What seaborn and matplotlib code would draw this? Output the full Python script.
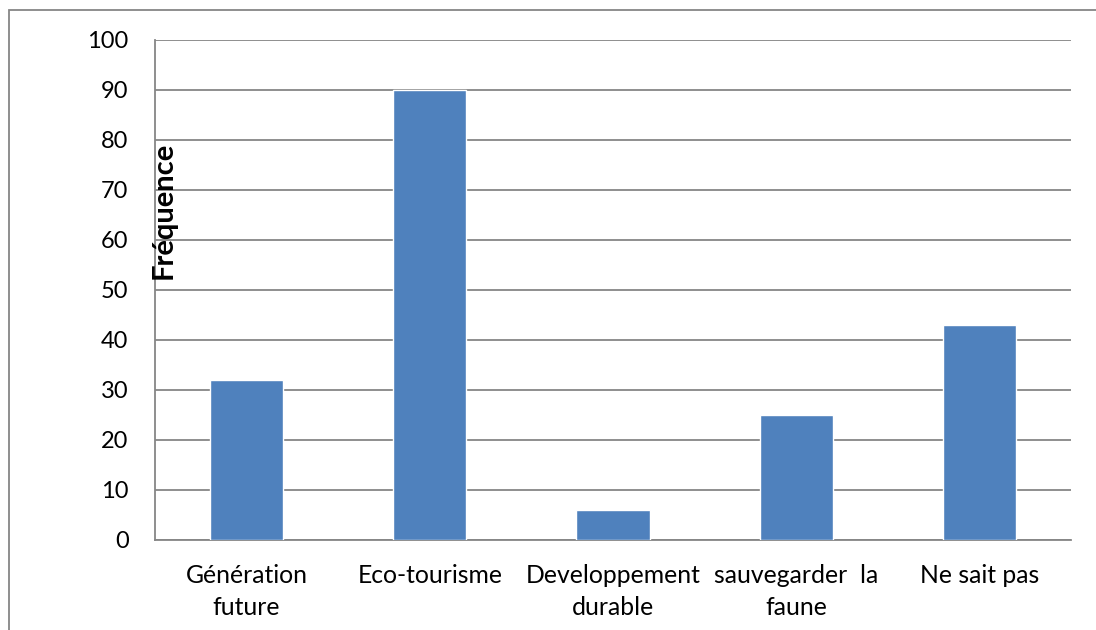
import matplotlib
matplotlib.use("Agg")
import matplotlib.pyplot as plt
from matplotlib.patches import Rectangle
import seaborn as sns
import pandas as pd

categories = ["Génération\nfuture", "Eco-tourisme", "Developpement\ndurable",
              "sauvegarder  la\nfaune", "Ne sait pas"]
frequences = [32, 90, 6, 25, 43]
y_ticks = [0, 10, 20, 30, 40, 50, 60, 70, 80, 90, 100]

sns.set_theme(style="white")
plt.rcParams["font.family"] = ["Lato", "DejaVu Sans"]

W, H = 1096, 630
fig = plt.figure(figsize=(W / 100, H / 100), dpi=100)
ax = fig.add_axes([155 / W, (H - 540) / H, (1071 - 155) / W, 500 / H])

df = pd.DataFrame({"cat": categories, "freq": frequences})
sns.barplot(data=df, x="cat", y="freq", color="#4F81BD", saturation=1,
            width=0.4, ax=ax, zorder=3)

ax.set_ylim(0, 100)
ax.set_xlim(-0.5, len(categories) - 0.5)
ax.set_yticks(y_ticks)
ax.yaxis.grid(True, color="#868686", linewidth=1.3, zorder=0)
ax.set_axisbelow(True)
ax.tick_params(axis="y", length=0, labelsize=17, colors="black", pad=19)
ax.tick_params(axis="x", length=0, labelsize=17.8, colors="black", pad=17)
for lbl in ax.get_xticklabels():
    lbl.set_linespacing(1.5)

ax.set_xlabel("")
ax.set_ylabel("")
for side in ("top", "right"):
    ax.spines[side].set_visible(False)
for side in ("left", "bottom"):
    ax.spines[side].set_color("#868686")
    ax.spines[side].set_linewidth(1.3)

# axis title sits just inside the plot area
ax.text(-0.005, 0.66, "Fréquence", transform=ax.transAxes, rotation=90,
        ha="left", va="center", fontsize=21, fontweight="bold", color="black")

# outer chart border
fig.add_artist(Rectangle((9 / W, -0.05), 1.2, 1 - 10 / H + 0.05,
                         transform=fig.transFigure, fill=False,
                         edgecolor="#868686", linewidth=1.3))

fig.savefig("out.png", dpi=100, facecolor="white")
